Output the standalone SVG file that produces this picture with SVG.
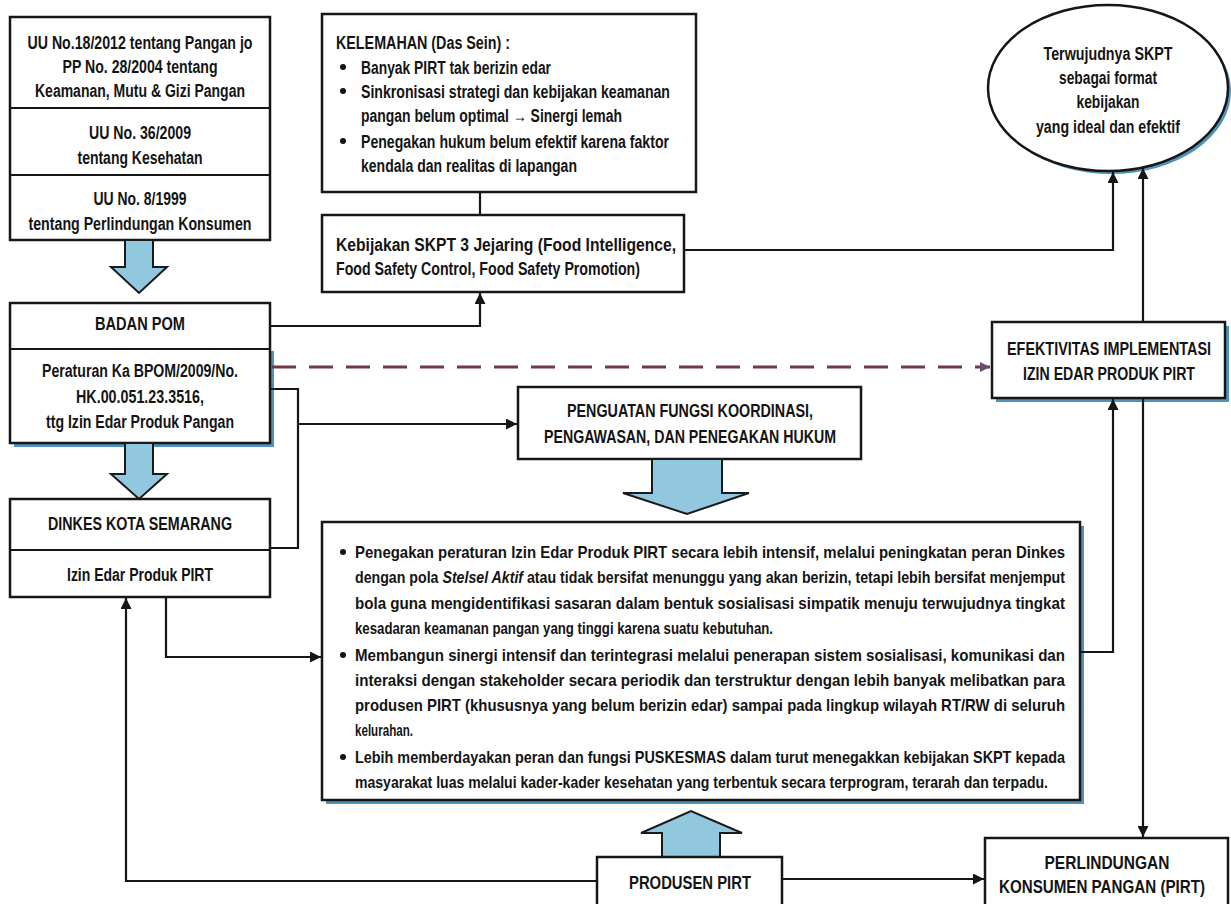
<svg xmlns="http://www.w3.org/2000/svg" width="1231" height="904" viewBox="0 0 1231 904">
<defs>
<style>
.t{font-family:"Liberation Sans",Arial,sans-serif;font-weight:bold;fill:#141414;font-size:18px}
.c{text-anchor:middle}
.b{fill:#fff;stroke:#161616;stroke-width:2.5}
.sh{fill:#4f93bd}
.ln{fill:none;stroke:#161616;stroke-width:2.2}
.ba{fill:#92c8de;stroke:#1a1a1a;stroke-width:2}
.bt{font-size:17px}
</style>
<marker id="ah" viewBox="0 0 10 10" refX="10" refY="5" markerWidth="11" markerHeight="11" markerUnits="userSpaceOnUse" orient="auto"><path d="M0,0 L10,5 L0,10 z" fill="#161616"/></marker>
<marker id="ahd" viewBox="0 0 10 10" refX="10" refY="5" markerWidth="10" markerHeight="10" markerUnits="userSpaceOnUse" orient="auto"><path d="M0,0 L10,5 L0,10 z" fill="#6b4a6e"/></marker>
</defs>
<rect width="1231" height="904" fill="#fff"/>

<g id="uu">
<rect class="b" x="10" y="17" width="260" height="223"/>
<line class="ln" x1="10" y1="108" x2="270" y2="108" stroke-width="2.5"/>
<line class="ln" x1="10" y1="175" x2="270" y2="175" stroke-width="2.5"/>
<text class="t c" x="140" y="49" textLength="225" lengthAdjust="spacingAndGlyphs">UU No.18/2012 tentang Pangan jo</text>
<text class="t c" x="140" y="73" textLength="155" lengthAdjust="spacingAndGlyphs">PP No. 28/2004 tentang</text>
<text class="t c" x="140" y="97" textLength="210" lengthAdjust="spacingAndGlyphs">Keamanan, Mutu &amp; Gizi Pangan</text>
<text class="t c" x="140" y="139" textLength="102" lengthAdjust="spacingAndGlyphs">UU No. 36/2009</text>
<text class="t c" x="140" y="164" textLength="125" lengthAdjust="spacingAndGlyphs">tentang Kesehatan</text>
<text class="t c" x="140" y="205" textLength="93" lengthAdjust="spacingAndGlyphs">UU No. 8/1999</text>
<text class="t c" x="140" y="230" textLength="223" lengthAdjust="spacingAndGlyphs">tentang Perlindungan Konsumen</text>
</g>

<g id="arrow-uu-bpom"><polygon class="ba" points="125,240 153,240 153,267 167,267 139,293 111,267 125,267"/></g>

<g id="badan-pom">
<rect class="sh" x="14" y="351" width="260" height="96"/>
<rect class="b" x="10" y="303" width="260" height="140"/>
<line class="ln" x1="10" y1="349" x2="270" y2="349" stroke-width="2.5"/>
<text class="t c" x="140" y="330" textLength="90" lengthAdjust="spacingAndGlyphs">BADAN POM</text>
<text class="t c" x="140" y="377" textLength="196" lengthAdjust="spacingAndGlyphs">Peraturan Ka BPOM/2009/No.</text>
<text class="t c" x="140" y="403" textLength="128" lengthAdjust="spacingAndGlyphs">HK.00.051.23.3516,</text>
<text class="t c" x="140" y="428" textLength="188" lengthAdjust="spacingAndGlyphs">ttg Izin Edar Produk Pangan</text>
</g>

<g id="arrow-bpom-dinkes"><polygon class="ba" points="125,443 153,443 153,474 167,474 139,499 111,474 125,474"/></g>

<g id="dinkes">
<rect class="b" x="10" y="499" width="260" height="98"/>
<line class="ln" x1="10" y1="550" x2="270" y2="550" stroke-width="2.5"/>
<text class="t c" x="140" y="530" textLength="184" lengthAdjust="spacingAndGlyphs">DINKES KOTA SEMARANG</text>
<text class="t c" x="140" y="581" textLength="146" lengthAdjust="spacingAndGlyphs">Izin Edar Produk PIRT</text>
</g>

<g id="kelemahan">
<rect class="b" x="322" y="14" width="374" height="178"/>
<text class="t" x="336" y="49" textLength="174" lengthAdjust="spacingAndGlyphs">KELEMAHAN  (Das Sein) :</text>
<circle cx="343" cy="67" r="3" fill="#141414"/>
<text class="t" x="361" y="74" textLength="190" lengthAdjust="spacingAndGlyphs">Banyak PIRT tak berizin edar</text>
<circle cx="343" cy="91" r="3" fill="#141414"/>
<text class="t" x="361" y="98" textLength="309" lengthAdjust="spacingAndGlyphs">Sinkronisasi strategi dan kebijakan keamanan</text>
<text class="t" x="361" y="122" textLength="261" lengthAdjust="spacingAndGlyphs">pangan belum optimal → Sinergi lemah</text>
<circle cx="343" cy="141" r="3" fill="#141414"/>
<text class="t" x="361" y="148" textLength="308" lengthAdjust="spacingAndGlyphs">Penegakan hukum belum efektif karena faktor</text>
<text class="t" x="361" y="172" textLength="216" lengthAdjust="spacingAndGlyphs">kendala dan realitas di lapangan</text>
</g>

<g id="kebijakan">
<rect class="b" x="322" y="215" width="362" height="77"/>
<text class="t" x="336" y="251" textLength="340" lengthAdjust="spacingAndGlyphs">Kebijakan SKPT  3 Jejaring (Food Intelligence,</text>
<text class="t" x="336" y="275" textLength="304" lengthAdjust="spacingAndGlyphs">Food Safety Control, Food Safety Promotion)</text>
</g>

<g id="tujuan">
<ellipse cx="1111" cy="91" rx="120" ry="83" fill="#4f93bd"/>
<ellipse cx="1108" cy="88" rx="120" ry="83" fill="#fff" stroke="#161616" stroke-width="2.5"/>
<text class="t c" x="1108" y="60" textLength="129" lengthAdjust="spacingAndGlyphs">Terwujudnya SKPT</text>
<text class="t c" x="1108" y="84" textLength="98" lengthAdjust="spacingAndGlyphs">sebagai format</text>
<text class="t c" x="1108" y="108" textLength="63" lengthAdjust="spacingAndGlyphs">kebijakan</text>
<text class="t c" x="1108" y="133" textLength="144" lengthAdjust="spacingAndGlyphs">yang ideal dan efektif</text>
</g>

<g id="efektivitas">
<rect class="sh" x="996" y="326" width="233" height="76"/>
<rect class="b" x="992" y="322" width="233" height="76"/>
<text class="t c" x="1109" y="355" textLength="204" lengthAdjust="spacingAndGlyphs">EFEKTIVITAS IMPLEMENTASI</text>
<text class="t c" x="1109" y="380" textLength="172" lengthAdjust="spacingAndGlyphs">IZIN EDAR PRODUK PIRT</text>
</g>

<g id="penguatan">
<rect class="b" x="518" y="387" width="343" height="72"/>
<text class="t c" x="690" y="417" textLength="246" lengthAdjust="spacingAndGlyphs">PENGUATAN FUNGSI KOORDINASI,</text>
<text class="t c" x="690" y="443" textLength="292" lengthAdjust="spacingAndGlyphs">PENGAWASAN, DAN PENEGAKAN HUKUM</text>
</g>

<g id="arrow-penguatan"><polygon class="ba" points="652,459 722,459 722,493 749,493 687,514 623,493 652,493"/></g>

<g id="strategi">
<rect class="sh" x="326" y="526" width="758" height="278"/>
<rect class="b" x="322" y="522" width="758" height="278"/>
<g class="t bt">
<circle cx="343" cy="552" r="3" fill="#141414"/>
<text x="355" y="558" textLength="710" lengthAdjust="spacingAndGlyphs">Penegakan peraturan Izin Edar Produk PIRT secara lebih intensif, melalui peningkatan peran Dinkes</text>
<text x="355" y="583" textLength="710" lengthAdjust="spacingAndGlyphs">dengan pola <tspan font-style="italic">Stelsel Aktif</tspan> atau tidak bersifat menunggu yang akan berizin, tetapi lebih bersifat menjemput</text>
<text x="355" y="609" textLength="710" lengthAdjust="spacingAndGlyphs">bola guna mengidentifikasi sasaran dalam bentuk sosialisasi simpatik menuju terwujudnya tingkat</text>
<text x="355" y="634" textLength="418" lengthAdjust="spacingAndGlyphs">kesadaran keamanan pangan yang tinggi karena suatu kebutuhan.</text>
<circle cx="343" cy="655" r="3" fill="#141414"/>
<text x="355" y="661" textLength="710" lengthAdjust="spacingAndGlyphs">Membangun sinergi intensif dan terintegrasi melalui penerapan sistem sosialisasi, komunikasi dan</text>
<text x="355" y="686" textLength="710" lengthAdjust="spacingAndGlyphs">interaksi dengan stakeholder secara periodik dan terstruktur dengan lebih banyak melibatkan para</text>
<text x="355" y="711" textLength="710" lengthAdjust="spacingAndGlyphs">produsen PIRT (khususnya yang belum berizin edar) sampai pada lingkup wilayah RT/RW di seluruh</text>
<text x="355" y="736" textLength="58" lengthAdjust="spacingAndGlyphs">kelurahan.</text>
<circle cx="343" cy="757" r="3" fill="#141414"/>
<text x="355" y="763" textLength="710" lengthAdjust="spacingAndGlyphs">Lebih memberdayakan peran dan fungsi PUSKESMAS dalam turut menegakkan kebijakan SKPT kepada</text>
<text x="355" y="788" textLength="693" lengthAdjust="spacingAndGlyphs">masyarakat luas melalui kader-kader kesehatan yang terbentuk secara terprogram, terarah dan terpadu.</text>
</g>
</g>

<g id="arrow-produsen"><polygon class="ba" points="662,857 720,857 720,833 742,833 691,811 641,833 662,833"/></g>

<g id="produsen">
<rect class="b" x="597" y="857" width="185" height="60"/>
<text class="t c" x="690" y="889" textLength="122" lengthAdjust="spacingAndGlyphs">PRODUSEN PIRT</text>
</g>

<g id="perlindungan">
<rect class="b" x="985" y="838" width="243" height="75"/>
<text class="t c" x="1107" y="869" textLength="125" lengthAdjust="spacingAndGlyphs">PERLINDUNGAN</text>
<text class="t c" x="1102" y="893" textLength="206" lengthAdjust="spacingAndGlyphs">KONSUMEN PANGAN (PIRT)</text>
</g>

<g id="connectors">
<line class="ln" x1="480" y1="192" x2="480" y2="215"/>
<polyline class="ln" points="270,326 480,326 480,293" marker-end="url(#ah)"/>
<polyline class="ln" points="684,250 1113,250 1113,172" marker-end="url(#ah)"/>
<line class="ln" x1="1143" y1="322" x2="1143" y2="168" marker-end="url(#ah)"/>
<line x1="272" y1="367" x2="990" y2="367" stroke="#6e3a44" stroke-width="3" stroke-dasharray="24,13" marker-end="url(#ahd)"/>
<polyline class="ln" points="270,389 298,389 298,548 270,548"/>
<line class="ln" x1="298" y1="424" x2="517" y2="424" marker-end="url(#ah)"/>
<polyline class="ln" points="166,597 166,657 321,657" marker-end="url(#ah)"/>
<polyline class="ln" points="1080,652 1113,652 1113,399" marker-end="url(#ah)"/>
<line class="ln" x1="1143" y1="398" x2="1143" y2="837" marker-end="url(#ah)"/>
<polyline class="ln" points="597,881 126,881 126,598" marker-end="url(#ah)"/>
<line class="ln" x1="782" y1="879" x2="984" y2="879" marker-end="url(#ah)"/>
</g>
</svg>
